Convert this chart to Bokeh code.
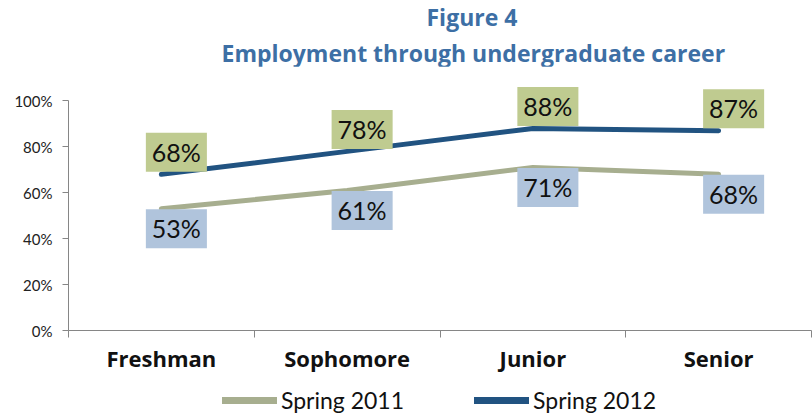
from bokeh.plotting import figure
from bokeh.layouts import column
from bokeh.models import (Range1d, FixedTicker, PrintfTickFormatter, CustomJSTickFormatter,
                          Legend, LegendItem, ColumnDataSource, Title)
from bokeh.core.properties import value
from bokeh.embed import file_html
from bokeh.resources import INLINE

categories = ["Freshman", "Sophomore", "Junior", "Senior"]
spring_2011 = [53, 61, 71, 68]
spring_2012 = [68, 78, 88, 87]
y_ticks = [0, 20, 40, 60, 80, 100]
series_names = ["Spring 2011", "Spring 2012"]
title_lines = ["Figure 4", "Employment through undergraduate career"]

xs = [i + 0.5 for i in range(len(categories))]

FONT = "Lato"
TFONT = "Open Sans"
COL_2011 = "#a7ae8f"
COL_2012 = "#215381"
FILL_2011_LBL = "#b0c4dc"
FILL_2012_LBL = "#bfcb90"
AXIS_COL = "#868686"
TITLE_COL = "#3d6fa5"

W = 812
LEFT = 68
RIGHT = 1
T_H = 66
L_H = 30

# ---- title strip (line 1 above a near-zero-height frame, line 2 below it) ----
t = figure(width=W, height=T_H, output_backend="svg", toolbar_location=None,
           x_axis_location=None, y_axis_location=None,
           x_range=Range1d(0, 1), y_range=Range1d(0, 1),
           min_border_left=LEFT, min_border_right=RIGHT, min_border_top=2, min_border_bottom=0)
t.outline_line_color = None
t.grid.visible = False
t.title.text = title_lines[0]
t.title.align = "left"
t.title.offset = 358
t.title.text_font = TFONT
t.title.text_font_size = "23px"
t.title.text_font_style = "bold"
t.title.text_color = TITLE_COL
t.title.standoff = 0
t_main = Title(text=title_lines[1], align="left", offset=153, text_font=TFONT,
               text_font_size="23px", text_font_style="bold", text_color=TITLE_COL,
               standoff=0)
t.add_layout(t_main, "below")

# ---- main chart ----
p = figure(width=W, height=415 - T_H - L_H, output_backend="svg", toolbar_location=None,
           x_range=Range1d(0, 4), y_range=Range1d(0, 108),
           min_border_left=LEFT, min_border_right=RIGHT, min_border_top=82 - T_H,
           min_border_bottom=55)
p.outline_line_color = None
p.grid.visible = False

xa = p.xaxis[0]
xa.ticker = FixedTicker(ticks=xs, minor_ticks=list(range(len(categories) + 1)))
xa.formatter = CustomJSTickFormatter(args=dict(cats=categories),
                                     code="return cats[Math.floor(tick)] || '';")
xa.axis_line_color = AXIS_COL
xa.major_tick_line_color = None
xa.major_tick_out = 0
xa.major_tick_in = 0
xa.minor_tick_line_color = AXIS_COL
xa.minor_tick_out = 7
xa.minor_tick_in = 0
xa.major_label_standoff = 5
xa.major_label_text_font = TFONT
xa.major_label_text_font_size = "22px"
xa.major_label_text_font_style = "bold"
xa.major_label_text_color = "#111111"

ya = p.yaxis[0]
ya.ticker = FixedTicker(ticks=y_ticks, minor_ticks=[])
ya.formatter = PrintfTickFormatter(format="%d%%")
ya.bounds = (0, 100)
ya.axis_line_color = AXIS_COL
ya.major_tick_line_color = AXIS_COL
ya.major_tick_out = 6
ya.major_tick_in = 0
ya.minor_tick_line_color = None
ya.major_label_standoff = 10
ya.major_label_text_font = FONT
ya.major_label_text_font_size = "15px"
ya.major_label_text_color = "#222222"

src = ColumnDataSource(dict(
    x=xs, s2011=spring_2011, s2012=spring_2012,
    l2011=[f"{v}%" for v in spring_2011], l2012=[f"{v}%" for v in spring_2012]))

p.line("x", "s2011", source=src, line_color=COL_2011, line_width=5, line_cap="round")
p.line("x", "s2012", source=src, line_color=COL_2012, line_width=5, line_cap="round")

pad = dict(left=6, right=6, top=4, bottom=5)
p.text("x", "s2012", text="l2012", source=src, x_offset=15, y_offset=-22,
       anchor="center", text_font=value(FONT), text_font_size="25px", text_color="#111111",
       background_fill_color=FILL_2012_LBL, padding=pad)
p.text("x", "s2011", text="l2011", source=src, x_offset=15, y_offset=20,
       anchor="center", text_font=value(FONT), text_font_size="25px", text_color="#111111",
       background_fill_color=FILL_2011_LBL, padding=pad)

# ---- legend strip ----
q = figure(width=W, height=L_H, output_backend="svg", toolbar_location=None,
           x_axis_location=None, y_axis_location=None,
           x_range=Range1d(0, 4), y_range=Range1d(0, 100),
           min_border_left=LEFT, min_border_right=RIGHT, min_border_top=0, min_border_bottom=0)
q.outline_line_color = None
q.grid.visible = False
lg2011 = q.line("x", "s2011", source=src, line_color=COL_2011, line_width=7,
                line_cap="round", visible=False)
lg2012 = q.line("x", "s2012", source=src, line_color=COL_2012, line_width=7,
                line_cap="round", visible=False)
legend = Legend(items=[LegendItem(label=series_names[0], renderers=[lg2011]),
                       LegendItem(label=series_names[1], renderers=[lg2012])],
                orientation="horizontal", location=(154, 1), margin=0, padding=0,
                glyph_width=55, label_standoff=4, spacing=70,
                inactive_fill_alpha=0,
                label_text_font=FONT, label_text_font_size="23px", label_text_color="#111111",
                border_line_color=None, background_fill_alpha=0)
q.add_layout(legend, "center")

open("out.html", "w").write(file_html(column(t, p, q), INLINE))
